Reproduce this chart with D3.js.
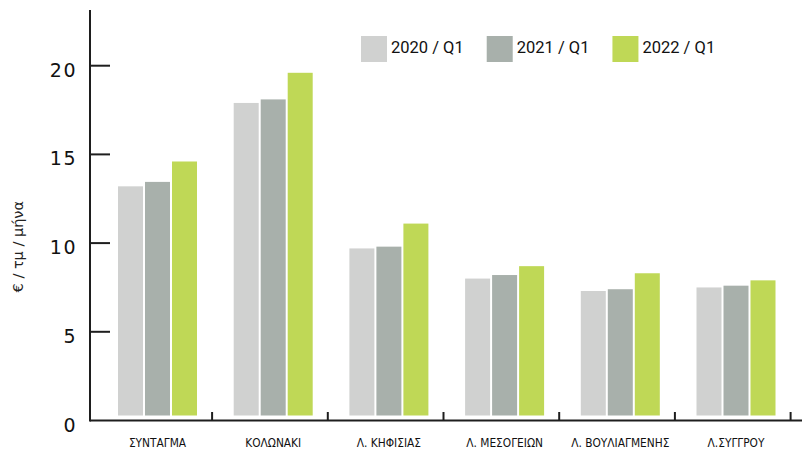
<!DOCTYPE html>
<html>
<head>
<meta charset="utf-8">
<script src="https://cdn.jsdelivr.net/npm/d3@7"></script>
<style>
  html, body { margin: 0; padding: 0; background: #fff; }
  svg { display: block; }
</style>
</head>
<body>
<div id="chart"></div>
<script>
// ---- data ----
const categories = ["ΣΥΝΤΑΓΜΑ", "ΚΟΛΩΝΑΚΙ", "Λ. ΚΗΦΙΣΙΑΣ", "Λ. ΜΕΣΟΓΕΙΩΝ", "Λ. ΒΟΥΛΙΑΓΜΕΝΗΣ", "Λ.ΣΥΓΓΡΟΥ"];
const seriesNames = ["2020 / Q1", "2021 / Q1", "2022 / Q1"];
const values2020 = [13.2, 17.9, 9.7, 8.0, 7.3, 7.5];
const values2021 = [13.45, 18.1, 9.8, 8.2, 7.4, 7.6];
const values2022 = [14.6, 19.6, 11.1, 8.7, 8.3, 7.9];
const yTicks = [0, 5, 10, 15, 20];
const yTitle = "€ / τμ / μήνα";
const colors = ["#d0d1d0", "#a8b0ab", "#bfd856"];

const series = [values2020, values2021, values2022];

const W = 802, H = 451;
const svg = d3.select("#chart").append("svg").attr("width", W).attr("height", H);

const axisX = 90, axisTop = 10;
const y = d3.scaleLinear().domain([0, 20]).range([420.5, 65.7]);

const x = d3.scaleBand().domain(categories).range([96.4, 790.6]).paddingInner(0).paddingOuter(0);
const barW = 25, barGap = 2, groupOffset = 21.6;
const xs = d3.scaleBand().domain(d3.range(seriesNames.length)).range([0, barW * 3 + barGap * 3]).paddingInner(0);

// bars
const baseGap = 5;
categories.forEach((c, i) => {
  series.forEach((vals, s) => {
    const x0 = x(c) + groupOffset + xs(s);
    svg.append("rect")
      .attr("x", x0)
      .attr("y", y(vals[i]))
      .attr("width", barW)
      .attr("height", y(0) - baseGap - y(vals[i]))
      .attr("fill", colors[s]);
  });
});

// axes
const axisColor = "#1e1e1e";
svg.append("line").attr("x1", axisX).attr("x2", axisX).attr("y1", axisTop).attr("y2", y(0) + 1)
  .attr("stroke", axisColor).attr("stroke-width", 2);
svg.append("line").attr("x1", axisX).attr("x2", W).attr("y1", y(0)).attr("y2", y(0))
  .attr("stroke", axisColor).attr("stroke-width", 2);

// y ticks & labels
yTicks.forEach(t => {
  if (t > 0) {
    svg.append("line").attr("x1", axisX).attr("x2", axisX + 20).attr("y1", y(t)).attr("y2", y(t))
      .attr("stroke", axisColor).attr("stroke-width", 2);
  }
  svg.append("text").attr("x", 77).attr("y", y(t) + 5.5)
    .attr("text-anchor", "end").attr("dominant-baseline", "middle")
    .attr("font-family", "DejaVu Sans").attr("font-size", 19)
    .attr("letter-spacing", 1.5)
    .attr("fill", "#111").text(t);
});

// x ticks (band boundaries)
categories.forEach(c => {
  const tx = x(c) + x.bandwidth();
  svg.append("line").attr("x1", tx).attr("x2", tx).attr("y1", y(0)).attr("y2", y(0) - 8.5)
    .attr("stroke", axisColor).attr("stroke-width", 2);
});

// x labels
categories.forEach(c => {
  const cx = x(c) + groupOffset + (barW * 3 + barGap * 2) / 2;
  svg.append("text").attr("x", cx).attr("y", 446.7)
    .attr("text-anchor", "middle")
    .attr("font-family", "DejaVu Sans").attr("font-stretch", "condensed")
    .attr("font-size", 11.8).attr("fill", "#111").text(c);
});

// y title
svg.append("text")
  .attr("transform", `translate(23,246.7) rotate(-90)`)
  .attr("text-anchor", "middle")
  .attr("font-family", "DejaVu Sans").attr("font-size", 14.5)
  .attr("fill", "#222").text(yTitle);

// legend
let lx = 361;
seriesNames.forEach((n, i) => {
  const g = svg.append("g");
  g.append("rect").attr("x", lx).attr("y", 36).attr("width", 26).attr("height", 26).attr("fill", colors[i]);
  const t = g.append("text").attr("x", lx + 30).attr("y", 49).attr("dominant-baseline", "middle")
    .attr("font-family", "Roboto").attr("font-size", 16.5).attr("fill", "#111").text(n);
  const w = t.node().getComputedTextLength();
  lx = lx + 30 + w + 23;
});
</script>
</body>
</html>
